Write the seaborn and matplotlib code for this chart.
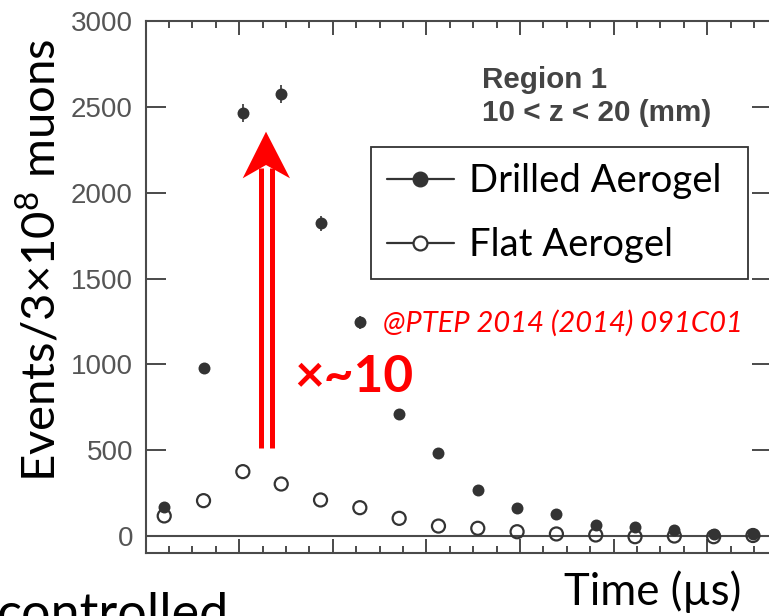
import matplotlib
matplotlib.use("Agg")
import matplotlib.pyplot as plt
from matplotlib.lines import Line2D
from matplotlib.patches import Polygon
from matplotlib.ticker import MultipleLocator
import numpy as np
import pandas as pd
import seaborn as sns

# ---- data ----
time_us = [0.20, 0.62, 1.04, 1.45, 1.87, 2.29, 2.71, 3.13, 3.55, 3.97, 4.39, 4.81, 5.23, 5.65, 6.07, 6.49]
drilled = [171, 977, 2462, 2573, 1822, 1245, 709, 482, 268, 161, 128, 64, 54, 33, 13, 10]
drilled_err = [15, 30, 52, 53, 45, 38, 28, 22, 17, 13, 12, 9, 8, 6, 5, 4]
flat = [117, 206, 375, 303, 210, 165, 103, 58, 45, 25, 12, 6, -4, 0, -4, 3]
series_names = ["Drilled Aerogel", "Flat Aerogel"]
y_ticks = [0, 500, 1000, 1500, 2000, 2500, 3000]

df = pd.DataFrame({
    "time": time_us * 2,
    "events": drilled + flat,
    "sample": [series_names[0]] * len(drilled) + [series_names[1]] * len(flat),
})

sns.set_theme(style="white")
plt.rcParams["font.family"] = ["Lato", "DejaVu Sans"]
plt.rcParams["mathtext.fontset"] = "custom"
plt.rcParams["mathtext.rm"] = "Lato"
plt.rcParams["mathtext.default"] = "regular"

W, H = 769, 616
fig = plt.figure(figsize=(W / 100, H / 100), dpi=100)
ax_left, ax_right, ax_top, ax_bot = 145.5, 772, 21, 552.5
AW, AH = ax_right - ax_left, ax_bot - ax_top
ax = fig.add_axes([ax_left / W, 1 - ax_bot / H, AW / W, AH / H])

def axx(p):
    return (p - ax_left) / AW

def axy(p):
    return (ax_bot - p) / AH

grey = "#4a4a4a"
pt_col = "#333333"

ax.axhline(0, color=grey, lw=1.5, zorder=1)

d_df = df[df["sample"] == series_names[0]]
f_df = df[df["sample"] == series_names[1]]
sns.scatterplot(data=f_df, x="time", y="events", ax=ax, s=88, facecolor="none",
                edgecolor=pt_col, linewidth=1.6, zorder=3, legend=False)
ax.errorbar(d_df["time"], d_df["events"], yerr=drilled_err, fmt="none",
            ecolor=pt_col, elinewidth=1.2, capsize=0, zorder=4)
sns.scatterplot(data=d_df, x="time", y="events", ax=ax, s=74, color=pt_col,
                edgecolor=pt_col, linewidth=0, zorder=5, legend=False)

ax.set_xlim(0, AW / 93.6)
ax.set_ylim(-96, 3000)
ax.set_xlabel("")
ax.set_ylabel("")

for s in ax.spines.values():
    s.set_color(grey)
    s.set_linewidth(1.5)

ax.set_yticks(y_ticks)
ax.set_yticklabels([str(v) for v in y_ticks], family="Liberation Sans", fontsize=20, color="#555555")
ax.tick_params(axis="y", which="major", direction="in", length=14.5, width=1.4,
               color=grey, left=True, right=True, pad=9)
ax.xaxis.set_major_locator(MultipleLocator(1.0))
ax.xaxis.set_minor_locator(MultipleLocator(0.25))
ax.tick_params(axis="x", which="major", direction="in", length=10, width=1.4,
               color=grey, bottom=True, top=True, labelbottom=False)
ax.tick_params(axis="x", which="minor", direction="in", length=5, width=1.4,
               color=grey, bottom=True, top=True)

# legend
handles = [
    Line2D([], [], color=pt_col, lw=1.6, marker="o", markersize=10.5,
           markerfacecolor=pt_col, markeredgecolor=pt_col),
    Line2D([], [], color=pt_col, lw=1.6, marker="o", markersize=10,
           markerfacecolor="white", markeredgecolor=pt_col, markeredgewidth=1.6),
]
leg = ax.legend(handles, series_names, loc="upper left", mode="expand",
                bbox_to_anchor=(axx(371), axy(279), axx(748) - axx(371), axy(147) - axy(279)),
                borderaxespad=0, frameon=True, fancybox=False, edgecolor="black",
                fontsize=27.5, handlelength=1.75, handletextpad=0.4, labelspacing=0.74,
                borderpad=0.42)
leg.get_frame().set_linewidth(1.3)
for t in leg.get_texts():
    t.set_color("black")

# region text
ax.text(axx(482), axy(127), "Region 1\n10 < z < 20 (mm)", transform=ax.transAxes,
        ha="left", va="bottom", family="Liberation Sans", fontweight="bold",
        fontsize=21.3, color="#444444", linespacing=1.22)

# citation
ax.text(axx(383), axy(323), "@PTEP 2014 (2014) 091C01", transform=ax.transAxes,
        ha="left", va="center", fontsize=21, style="italic", color="#ff0000")

# x~10
ax.text(axx(354), axy(377), "×~10", transform=ax.transAxes, ha="center", va="center",
        fontsize=37, fontweight="bold", color="#ff0000")

# red double arrow (data coordinates)
def px2x(p):
    return (p - ax_left) / 93.6

def py2y(p):
    return (536 - p) * 500 / 85.83

for xp in (260.7, 271.7):
    ax.plot([px2x(xp), px2x(xp)], [py2y(448), py2y(168)], color="#ff0000", lw=3.6,
            solid_capstyle="butt", zorder=6)
head = Polygon([[px2x(266), py2y(131.7)], [px2x(290), py2y(178.3)],
                [px2x(266), py2y(165)], [px2x(242.7), py2y(178.3)]],
               closed=True, facecolor="#ff0000", edgecolor="none", zorder=7)
ax.add_patch(head)

# outer labels
fig.text(40 / W, 1 - 260 / H, "Events/3×10$^{8}$ muons", rotation=90,
         ha="center", va="center", fontsize=34, color="black")
fig.text(564 / W, 1 - 605 / H, "Time (µs)", ha="left", va="baseline",
         fontsize=31.5, color="black")
fig.text(-3 / W, 1 - 630 / H, "controlled", ha="left", va="baseline",
         fontsize=37.5, color="black")

fig.savefig("out.png", dpi=100)
